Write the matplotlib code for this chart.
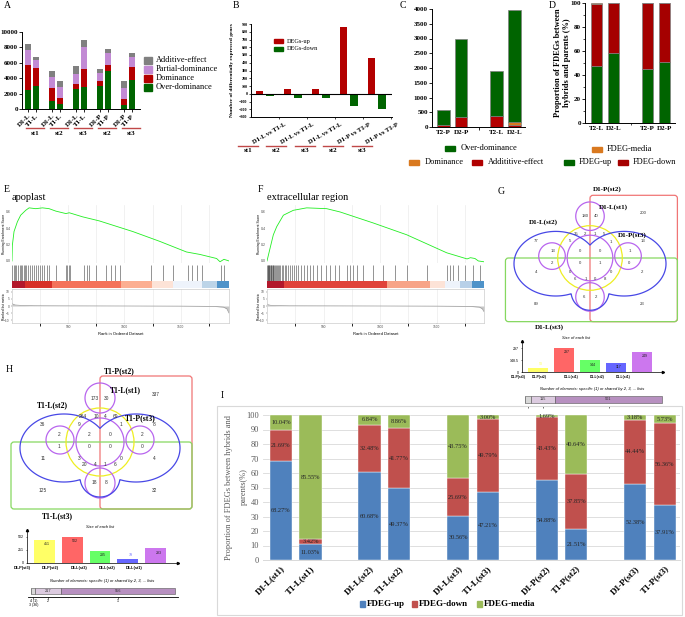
import numpy as np
import matplotlib
matplotlib.use('Agg')
import matplotlib.pyplot as plt
from matplotlib.patches import Rectangle, FancyBboxPatch, Circle

W, H = 685, 617
plt.rcParams['font.family'] = 'Liberation Serif'
plt.rcParams['axes.linewidth'] = 0.7
SANS = 'Liberation Sans'

# ---- data -------------------------------------------------------------
# A: heterosis categories per hybrid/parent pair
a_labels = ['D1-L', 'T1-L', 'D1-L', 'T1-L', 'D1-L', 'T1-L', 'D1-P', 'T1-P', 'D1-P', 'T1-P']
a_groups = ['st1', 'st2', 'st3', 'st2', 'st3']
a_over = [2500, 3000, 1100, 700, 2600, 2800, 3000, 5000, 500, 3800]
a_dom = [3200, 2300, 1600, 700, 600, 2400, 700, 700, 800, 1600]
a_partial = [2000, 1100, 1500, 1500, 1300, 2900, 1000, 1600, 1400, 1400]
a_add = [800, 400, 700, 800, 1100, 800, 500, 500, 900, 500]
a_names = ['Additive-effect', 'Partial-dominance', 'Dominance', 'Over-dominance']

# B: DEGs up / down
b_labels = ['D1-L vs T1-L', 'D1-L vs T1-L', 'D1-L vs T1-L', 'D1-P vs T1-P', 'D1-P vs T1-P']
b_groups = ['st1', 'st2', 'st3', 'st2', 'st3']
b_up = [40, 64, 60, 865, 460]
b_down = [-35, -60, -55, -163, -197]

# C
c_labels = ['T2-P', 'D2-P', 'T2-L', 'D2-L']
c_add = [60, 340, 370, 70]
c_dom = [0, 0, 0, 90]
c_over = [500, 2660, 1540, 3800]

# D
d_labels = ['T2-L', 'D2-L', 'T2-P', 'D2-P']
d_up = [47.8, 58.6, 44.7, 51.1]
d_down = [51.7, 41.4, 55.3, 48.9]
d_media = [0.5, 0.0, 0.0, 0.0]

# E / F : GSEA running score, hits, ranked metric
e_rank = [0, 3, 18, 48, 77, 122, 152, 211, 271, 330, 390, 479, 509, 628, 777,
          1074, 1313, 1551, 1670, 1819, 1849, 1884, 1929]
e_es = [0.0, 0.19, 0.36, 0.48, 0.56, 0.62, 0.65, 0.64, 0.65, 0.64, 0.61, 0.58, 0.59,
        0.54, 0.49, 0.36, 0.24, 0.11, 0.08, 0.03, -0.01, 0.02, 0.0]
e_hits = [3, 15, 27, 39, 54, 69, 80, 92, 104, 116, 128, 146, 161, 182, 197, 217, 235,
          247, 271, 286, 307, 325, 390, 479, 491, 503, 515, 643, 664, 682, 747, 837,
          881, 920, 956, 1238, 1342, 1432, 1566, 1601, 1646, 1691, 1855, 1887]
e_seg = [0, 120, 360, 970, 1247, 1432, 1685, 1819, 1929]
e_seg_col = ['#b2182b', '#d73027', '#f4725a', '#fcae91', '#fde3d7', '#eef3fb',
             '#bcd4e8', '#4f93c9']
e_m_rank = [0, 10, 30, 80, 200, 500, 1000, 1500, 1800, 1880, 1910, 1929]
e_m_val = [2.0, 1.2, 0.7, 0.4, 0.2, 0.1, 0.0, -0.1, -0.3, -0.8, -2.0, -5.0]

f_rank = [0, 27, 56, 86, 145, 233, 351, 528, 646, 940, 1237, 1590, 1770, 1800,
          1840, 1870, 1920]
f_es = [0.0, 0.155, 0.32, 0.42, 0.56, 0.62, 0.65, 0.64, 0.60, 0.465, 0.32, 0.10,
        0.025, 0.04, 0.03, 0.0, -0.01]
f_hits = [2, 6, 10, 15, 20, 26, 31, 37, 44, 50, 57, 64, 72, 80, 88, 97, 106, 118, 130,
          142, 155, 170, 186, 200, 218, 236, 255, 275, 300, 325, 350, 380, 410, 445,
          480, 520, 560, 600, 640, 708, 735, 761, 797, 850, 938, 1027, 1133, 1239,
          1416, 1593, 1620, 1646, 1690, 1752, 1823, 1885]
f_seg = [0, 150, 1062, 1443, 1575, 1708, 1814, 1920]
f_seg_col = ['#b2182b', '#e0433a', '#f7a488', '#fde3d7', '#eef3fb', '#b8d0e8', '#4f93c9']
f_m_rank = [0, 10, 30, 80, 200, 500, 1000, 1500, 1800, 1880, 1905, 1920]
f_m_val = [1.4, 0.9, 0.5, 0.3, 0.15, 0.1, 0.0, -0.1, -0.3, -0.8, -2.0, -4.0]

# G / H : venn counts, list sizes, shared counts
g_counts = ['180', '40', '200', '35', '2', '1', '5', '77', '5', '1', '13', '13', '0', '0',
            '1', '2', '0', '1', '0', '4', '0', '0', '2', '6', '1', '0', '8', '6', '2',
            '89', '23']
g_sets = ['D1-P(st2)', 'D1-L(st1)', 'D1-L(st2)', 'D1-P(st3)', 'D1-L(st3)']
g_sizes = [53, 297, 144, 117, 249]
g_size_labels = ['D1-P(st3)', 'D1-P(st2)', 'D1-L(st1)', 'D1-L(st2)', 'D1-L(st1)']
g_shared = [1, 25, 115, 501]

h_counts = ['173', '30', '337', '264', '10', '4', '69', '36', '9', '1', '8', '2', '2',
            '0', '2', '1', '0', '0', '0', '11', '3', '0', '4', '20', '4', '1', '6',
            '18', '8', '125', '32']
h_sets = ['T1-P(st2)', 'T1-L(st1)', 'T1-L(st2)', 'T1-P(st3)', 'T1-L(st3)']
h_sizes = [451, 502, 235, 79, 283]
h_size_labels = ['D1-P(st3)', 'D1-P(st2)', 'D1-L(st3)', 'D1-L(st2)', 'D1-L(st1)']
h_shared = [1, 36, 217, 956]
h_shared_labels = ['4 (1)\n3 (36)', '2', '1']

# I
i_labels = ['D1-L(st1)', 'T1-L(st1)', 'D1-L(st2)', 'T1-L(st2)', 'D1-L(st3)',
            'T1-L(st3)', 'D1-P(st2)', 'T1-P(st2)', 'D1-P(st3)', 'T1-P(st3)']
i_up = [68.27, 11.03, 60.68, 49.37, 30.56, 47.21, 54.88, 21.51, 52.38, 37.91]
i_down = [21.69, 3.42, 32.48, 41.77, 25.69, 49.79, 43.43, 37.85, 44.44, 56.36]
i_media = [10.04, 85.55, 6.84, 8.86, 43.75, 3.00, 1.69, 40.64, 3.18, 5.73]

# ---- helpers ----------------------------------------------------------
fig = plt.figure(figsize=(W / 100, H / 100), dpi=100)


def px_ax(x0, y0, x1, y1):
    return fig.add_axes([x0 / W, 1 - y1 / H, (x1 - x0) / W, (y1 - y0) / H])


ov = fig.add_axes([0, 0, 1, 1], zorder=10)
ov.set_xlim(0, W)
ov.set_ylim(H, 0)
ov.axis('off')


def bold_ticks(ax, size):
    for t in ax.get_xticklabels() + ax.get_yticklabels():
        t.set_fontweight('bold')
        t.set_fontsize(size)


# panel letters
for let, x, y in [('A', 7, 6), ('B', 236, 5), ('C', 403, 5), ('D', 552, 5), ('E', 7, 190),
                  ('F', 260, 190), ('G', 501, 191), ('H', 9, 370), ('I', 222, 396)]:
    ov.text(x, y, let, fontsize=7, ha='center', va='center')

# ---- A ----------------------------------------------------------------
axA = px_ax(22, 32, 140, 109)
pos = np.array([i + i // 2 for i in range(len(a_labels))])
colsA = ['#006400', '#b40000', '#c28ad4', '#808080']
bot = np.zeros(len(pos))
for vals, col in zip([a_over, a_dom, a_partial, a_add], colsA):
    axA.bar(pos, vals, 0.75, bottom=bot, color=col)
    bot += np.array(vals)
axA.set_xlim(-0.75, 14)
axA.set_ylim(0, 10000)
axA.spines[['top', 'right']].set_visible(False)
axA.set_yticks(range(0, 10001, 2000))
axA.set_xticks(pos)
axA.set_xticklabels(a_labels, rotation=45, ha='right', rotation_mode='anchor')
axA.tick_params(length=2, width=0.6, pad=1)
bold_ticks(axA, 5)
for g, name in enumerate(a_groups):
    c = 32 + 24 * g + 3
    ov.plot([c - 9, c + 9], [128, 128], color='#c04848', lw=1)
    ov.text(c, 133.5, name, fontsize=5, fontweight='bold', ha='center', va='center')
for k, (name, col) in enumerate(zip(a_names, colsA[::-1])):
    y = 60 + 9 * k
    ov.add_patch(Rectangle((144, y - 3.5), 8, 7, color=col))
    ov.text(156, y, name, fontsize=6, va='center')

# ---- B ----------------------------------------------------------------
axB = px_ax(251, 24, 392, 117)
gx = np.arange(len(b_up))
axB.bar(gx - 0.19, b_up, 0.27, color='#b30000')
axB.bar(gx + 0.19, b_down, 0.27, color='#006400')
axB.axhline(0, color='k', lw=0.8)
axB.set_xlim(-0.5, 4.55)
axB.set_ylim(-300, 900)
axB.set_yticks(range(-300, 901, 100))
axB.set_xticks(gx + 0.5)
axB.set_xticklabels([])
axB.spines[['top', 'right']].set_visible(False)
axB.tick_params(length=1.5, width=0.5, pad=1)
bold_ticks(axB, 3)
ov.text(232, 70, 'Number of differentially expressed genes', rotation=90, fontsize=3.9,
        fontweight='bold', ha='center', va='center')
for g, (lab, name) in enumerate(zip(b_labels, b_groups)):
    ov.text(286 + 28 * g, 124, lab, rotation=30, ha='right', va='center',
            rotation_mode='anchor', fontsize=4.8, fontweight='bold')
    c = 248 + 28.5 * g
    ov.plot([c - 10, c + 10], [146, 146], color='#c04848', lw=1)
    ov.text(c, 150.5, name, fontsize=5, fontweight='bold', ha='center', va='center')
ov.add_patch(Rectangle((274, 38.5), 9, 4.5, color='#b30000'))
ov.text(287, 41, 'DEGs-up', fontsize=4.5, va='center')
ov.add_patch(Rectangle((274, 46.5), 9, 4.5, color='#006400'))
ov.text(287, 49, 'DEGs-down', fontsize=4.5, va='center')

# ---- C ----------------------------------------------------------------
axC = px_ax(432, 9, 525, 127)
cpos = np.array([0, 1, 3, 4])
kw = dict(ec='#7f7f7f', lw=0.5)
axC.bar(cpos, c_add, 0.7, color='#b30000', **kw)
axC.bar(cpos, c_dom, 0.7, bottom=c_add, color='#d9791f', **kw)
axC.bar(cpos, c_over, 0.7, bottom=np.add(c_add, c_dom), color='#006400', **kw)
axC.set_xlim(-0.65, 4.6)
axC.set_ylim(0, 4000)
axC.set_yticks(range(0, 4001, 500))
axC.set_xticks(cpos)
axC.set_xticklabels(c_labels)
axC.set_xticks([2], minor=True)
axC.spines[['top', 'right']].set_visible(False)
axC.tick_params(length=0, pad=2, axis='x')
axC.tick_params(which='minor', length=2, width=0.6)
axC.tick_params(axis='y', length=2, width=0.6, pad=1)
bold_ticks(axC, 5)
for p, name, col in [((445, 148), 'Over-dominance', '#006400'),
                     ((409, 162), 'Dominance', '#d9791f'),
                     ((472, 162), 'Addititive-effect', '#b00000')]:
    ov.add_patch(Rectangle((p[0], p[1] - 2.5), 10, 5, color=col))
    ov.text(p[0] + 16, p[1], name, fontsize=6, va='center')

# ---- D ----------------------------------------------------------------
axD = px_ax(585, 3, 675, 123)
dpos = np.array([0, 1, 3, 4])
axD.bar(dpos, d_up, 0.65, color='#006400', **kw)
axD.bar(dpos, d_down, 0.65, bottom=d_up, color='#a50000', **kw)
axD.bar(dpos, d_media, 0.65, bottom=np.add(d_up, d_down), color='#d9791f', **kw)
axD.set_xlim(-0.68, 4.6)
axD.set_ylim(0, 100)
axD.set_yticks(range(0, 101, 20))
axD.set_yticks(range(10, 100, 20), minor=True)
axD.set_xticks(dpos)
axD.set_xticklabels(d_labels)
axD.set_xticks([2], minor=True)
axD.spines[['top', 'right']].set_visible(False)
axD.tick_params(axis='x', length=0, pad=2)
axD.tick_params(which='minor', length=1.5, width=0.5)
axD.tick_params(axis='y', length=2, width=0.6, pad=1)
bold_ticks(axD, 5)
ov.text(558, 63, 'Proportion of FDEGs between', rotation=90, fontsize=6,
        fontweight='bold', ha='center', va='center')
ov.text(567.5, 63, 'hybrids and parents (%)', rotation=90, fontsize=6,
        fontweight='bold', ha='center', va='center')
for p, name, col in [((592, 149), 'FDEG-media', '#d9791f'),
                     ((564, 162), 'FDEG-up', '#006400'),
                     ((618, 162), 'FDEG-down', '#a50000')]:
    ov.add_patch(Rectangle((p[0], p[1] - 2.5), 10, 5, color=col))
    ov.text(p[0] + 15, p[1], name, fontsize=6, va='center')


# ---- E / F ------------------------------------------------------------
def gsea_panel(x0, x1, n, rk, es, hits, seg, seg_col, m_rank, m_val, title):
    ax = px_ax(x0, 205, x1, 263)
    ax.plot(rk, es, color='#22ee22', lw=0.6)
    ax.set_xlim(0, n)
    ax.set_ylim(-0.025, 0.685)
    ax.set_xticks(np.arange(250, n, 250))
    ax.set_xticklabels([])
    ax.set_yticks([0, 0.2, 0.4, 0.6])
    ax.set_yticklabels(['0.0', '0.2', '0.4', '0.6'], fontsize=2.5, color='#4d4d4d',
                       family=SANS)
    ax.tick_params(length=0, pad=1)
    ax.grid(axis='x', color='#ebebeb', lw=0.5)
    for s in ax.spines.values():
        s.set_visible(False)
    ov.text(x0 - 8, 234, 'Running Enrichment Score', fontsize=2.4, family=SANS,
            rotation=90, ha='center', va='center')

    axh = px_ax(x0, 265, x1, 281)
    axh.vlines(hits, 0, 1, color='#222222', lw=0.4, alpha=0.85)
    axh.set_xlim(0, n)
    axh.set_ylim(0, 1)
    axh.axis('off')

    axc = px_ax(x0, 281, x1, 288)
    for a, b, col in zip(seg[:-1], seg[1:], seg_col):
        axc.axvspan(a, b, color=col, lw=0)
    axc.set_xlim(0, n)
    axc.axis('off')

    axr = px_ax(x0, 289, x1, 323)
    axr.fill_between(m_rank, 0, m_val, color='#c8c8c8', lw=0)
    axr.plot(m_rank, m_val, color='#9a9a9a', lw=0.5)
    axr.set_xlim(0, n)
    axr.set_ylim(-12.1, 12.1)
    axr.set_yticks([-10, -5, 0, 5, 10])
    axr.set_xticks([500, 1000, 1500])
    axr.set_xticks(np.arange(250, n, 500), minor=True)
    axr.grid(axis='x', which='both', color='#ebebeb', lw=0.5)
    axr.tick_params(labelsize=2.3, length=0.8, width=0.3, pad=0.8, colors='#4d4d4d')
    for t in axr.get_xticklabels() + axr.get_yticklabels():
        t.set_family(SANS)
    for s in axr.spines.values():
        s.set_color('#cccccc')
        s.set_linewidth(0.5)
    ov.text(x0 - 8, 306, 'Ranked list metric', fontsize=2.4, family=SANS,
            rotation=90, ha='center', va='center')
    axr.set_xlabel('Rank in Ordered Dataset', fontsize=3, labelpad=1, family=SANS)
    ov.text(x0, 198, title, fontsize=7.5, va='center')


gsea_panel(12, 229, 1929, e_rank, e_es, e_hits, e_seg, e_seg_col, e_m_rank, e_m_val,
           'apoplast')
gsea_panel(267, 484, 1920, f_rank, f_es, f_hits, f_seg, f_seg_col, f_m_rank, f_m_val,
           'extracellular region')

# ---- G / H venns ------------------------------------------------------
g_count_xy = [(585, 216), (596, 216), (643, 213), (576, 234), (585, 234), (595, 234),
              (604, 234), (536, 241), (570, 241), (611, 242), (643, 241), (553, 251),
              (580, 251), (600, 251), (630, 251), (552, 263), (580, 263), (600, 263),
              (629, 263), (536, 272), (570, 272), (611, 272), (642, 272), (575, 279),
              (586, 279), (595, 279), (605, 279), (584, 297), (596, 297), (536, 304),
              (642, 304)]
g_set_xy = [(607, 189), (613, 207), (543, 222), (632, 235), (549, 327)]
h_count_xy = [(95, 398), (107, 398), (156, 395), (83, 417), (96, 417), (105, 417),
              (116, 417), (43, 424), (79, 424), (121, 424), (154, 424), (59, 435),
              (89, 435), (110, 435), (142, 435), (59, 447), (89, 447), (110, 447),
              (142, 447), (43, 458), (79, 458), (121, 458), (154, 458), (85, 465),
              (95, 465), (105, 465), (115, 465), (94, 483), (106, 483), (43, 490),
              (155, 490)]
h_set_xy = [(119, 371), (125, 390), (52, 405), (140, 418), (57, 516)]


def union_outline(cx, cy, s, shapes, color, lw):
    xs = np.linspace(cx - 95 * s, cx + 95 * s, 700)
    ys = np.linspace(cy - 72 * s, cy + 72 * s, 540)
    X, Y = np.meshgrid(xs, ys)
    Z = np.full(X.shape, np.inf)
    for dx, dy, rx, ry in shapes:
        Z = np.minimum(Z, np.hypot((X - cx - dx * s) / (rx * s),
                                   (Y - cy - dy * s) / (ry * s)) - 1)
    ov.contour(X, Y, Z, levels=[0], colors=[color], linewidths=lw)


def draw_venn(cx, cy, s, lw, counts, count_xy, sets, set_xy, csize, ssize):
    ov.add_patch(FancyBboxPatch((cx, cy - 66 * s), 92 * s, 133 * s,
                                boxstyle='round,pad=0,rounding_size=3', fill=False,
                                ec='#f07575', lw=lw))
    ov.add_patch(FancyBboxPatch((cx - 89 * s, cy), 181 * s, 67 * s,
                                boxstyle='round,pad=0,rounding_size=3', fill=False,
                                ec='#86d860', lw=lw))
    ov.add_patch(Circle((cx, cy), 34 * s, fill=False, ec='#eeee22', lw=lw))
    union_outline(cx, cy, s, [(0, -44, 15, 15), (-40, -2, 14, 14), (40, -2, 14, 14),
                              (0, 41, 15, 15), (0, 0, 24, 24)], '#b865ee', lw)
    union_outline(cx, cy, s, [(-36, 6, 44, 34), (36, 6, 44, 34), (0, 35, 20, 20)],
                  '#4848e6', lw)
    for txt, (x, y) in zip(counts, count_xy):
        ov.text(x, y, txt, fontsize=csize, family=SANS, ha='center', va='center',
                color='#333333')
    for txt, (x, y) in zip(sets, set_xy):
        ov.text(x, y, txt, fontsize=ssize, fontweight='bold', ha='center', va='center')


draw_venn(590, 258, 0.95, 0.9, g_counts, g_count_xy, g_sets, g_set_xy, 3.1, 5)
draw_venn(100, 442, 1.0, 0.9, h_counts, h_count_xy, h_sets, h_set_xy, 3.5, 5.5)

list_cols = ['#ffff66', '#ff6666', '#66ff66', '#6666ff', '#cc77ee']


def size_chart(rect, sizes, labels, label_pos, ticks, ylim, lsize, title_xy):
    ax = px_ax(*rect)
    ax.bar(range(len(sizes)), sizes, 0.75, color=list_cols)
    ax.set_xlim(-0.62, 4.8)
    ax.set_ylim(0, ylim)
    ax.set_yticks(ticks)
    ax.set_yticklabels([f'{t:g}' for t in ticks], fontsize=2.6, family=SANS)
    ax.set_xticks([])
    ax.spines[['top', 'right']].set_visible(False)
    ax.spines[['left', 'bottom']].set_linewidth(0.5)
    ax.tick_params(length=1, width=0.4, pad=1)
    ax.plot(0, 1, '^k', ms=1.6, transform=ax.transAxes, clip_on=False)
    ax.plot(1, 0, '>k', ms=1.6, transform=ax.transAxes, clip_on=False)
    for i, v in enumerate(sizes):
        small = v < 0.25 * max(sizes)
        ax.annotate(str(v), (i, v), xytext=(2, 2.5 if small else -3),
                    textcoords='offset points', fontsize=2.6, family=SANS,
                    ha='center', va='center',
                    color=list_cols[i] if small else '#222222')
    for lab, p in zip(labels, label_pos):
        ax.text(p, -0.16, lab, fontsize=lsize, fontweight='bold', family=SANS,
                ha='center', va='center', transform=ax.get_xaxis_transform())
    ov.text(*title_xy, 'Size of each list', fontsize=2.9, style='italic', family=SANS,
            ha='center', va='center')


size_chart((522, 341, 663, 372), g_sizes, g_size_labels, [-0.75, 0.05, 1.25, 2.25, 3.25],
           [0, 148.5, 297], 384, 2.4, (576, 338))
size_chart((27, 530, 178, 563), h_sizes, h_size_labels, [-0.8, 0.22, 1.25, 2.24, 3.23],
           [0, 251, 502], 637, 2.8, (100, 527))

share_cols = ['#eeeeee', '#d8d8d8', '#dccbe0', '#b790c0']


def share_bar(rect, shared, pad, tick_labels, title_xy):
    ax = px_ax(*rect)
    left = 0
    centers = []
    for v, col in zip(shared, share_cols):
        ax.barh(6.5, v, 7, left=left, color=col, ec='#555555', lw=0.4)
        centers.append(left + v / 2)
        if v > 50:
            ax.text(left + v / 2, 6.5, str(v), fontsize=2.8, family=SANS, ha='center',
                    va='center', color='#333333')
        left += v
    ax.set_xlim(-pad, left + pad)
    ax.set_ylim(0, 10)
    ax.spines[['top', 'right', 'left']].set_visible(False)
    ax.spines['bottom'].set_linewidth(0.6)
    ax.set_yticks([])
    if tick_labels:
        ax.set_xticks([shared[0] + shared[1] / 2] + centers[2:])
        ax.set_xticklabels(tick_labels, fontsize=2.6, family=SANS, linespacing=1.0)
    else:
        ax.set_xticks(centers[1:])
        ax.set_xticklabels([])
    ax.tick_params(length=1.2, width=0.4, pad=0.5)
    ov.text(*title_xy, 'Number of elements: specific (1) or shared by 2, 3, ... lists',
            fontsize=3.0, style='italic', family=SANS, ha='center', va='center')


share_bar((522, 396, 665, 406), g_shared, 14, None, (592, 389))
share_bar((28, 588, 178, 597), h_shared, 25, h_shared_labels, (102, 581))

# ---- I ----------------------------------------------------------------
ov.add_patch(Rectangle((217, 406), 465, 209, fill=False, ec='#d9d9d9', lw=0.8))
axI = px_ax(263, 415, 680, 560)
ipos = np.array([i + i // 2 for i in range(len(i_labels))])
colsI = ['#4f81bd', '#c0504d', '#9bbb59']
bot = np.zeros(len(ipos))
for vals, col in zip([i_up, i_down, i_media], colsI):
    bars = axI.bar(ipos, vals, 0.75, bottom=bot, color=col, ec='white', lw=0.3, zorder=3)
    axI.bar_label(bars, labels=[f'{v:.2f}%' for v in vals], label_type='center',
                  fontsize=4.6, color='#262626')
    bot += np.array(vals)
axI.set_xlim(-0.61, 13.52)
axI.set_ylim(0, 100)
axI.set_yticks(range(0, 101, 10))
axI.grid(axis='y', color='#d9d9d9', lw=0.6, zorder=0)
axI.spines[['top', 'right', 'left']].set_visible(False)
axI.spines['bottom'].set_color('#d9d9d9')
axI.set_xticks(ipos)
axI.set_xticklabels(i_labels, rotation=45, ha='right', rotation_mode='anchor',
                    fontsize=6.5, fontweight='bold')
axI.tick_params(axis='y', length=0, labelsize=6, labelcolor='#595959', pad=3)
axI.tick_params(axis='x', length=0, pad=3)
ov.text(229, 487, 'Proportion of FDEGs between hybrids and', rotation=90, fontsize=6,
        color='#595959', ha='center', va='center')
ov.text(244, 487, 'parents(%)', rotation=90, fontsize=6, color='#595959',
        ha='center', va='center')
for x, name, col in [(360, 'FDEG-up', colsI[0]), (412, 'FDEG-down', colsI[1]),
                     (477, 'FDEG-media', colsI[2])]:
    ov.add_patch(Rectangle((x, 601), 5.5, 5.5, color=col))
    ov.text(x + 7, 604, name, fontsize=6.5, fontweight='bold', va='center')

fig.savefig('out.png', dpi=100)
